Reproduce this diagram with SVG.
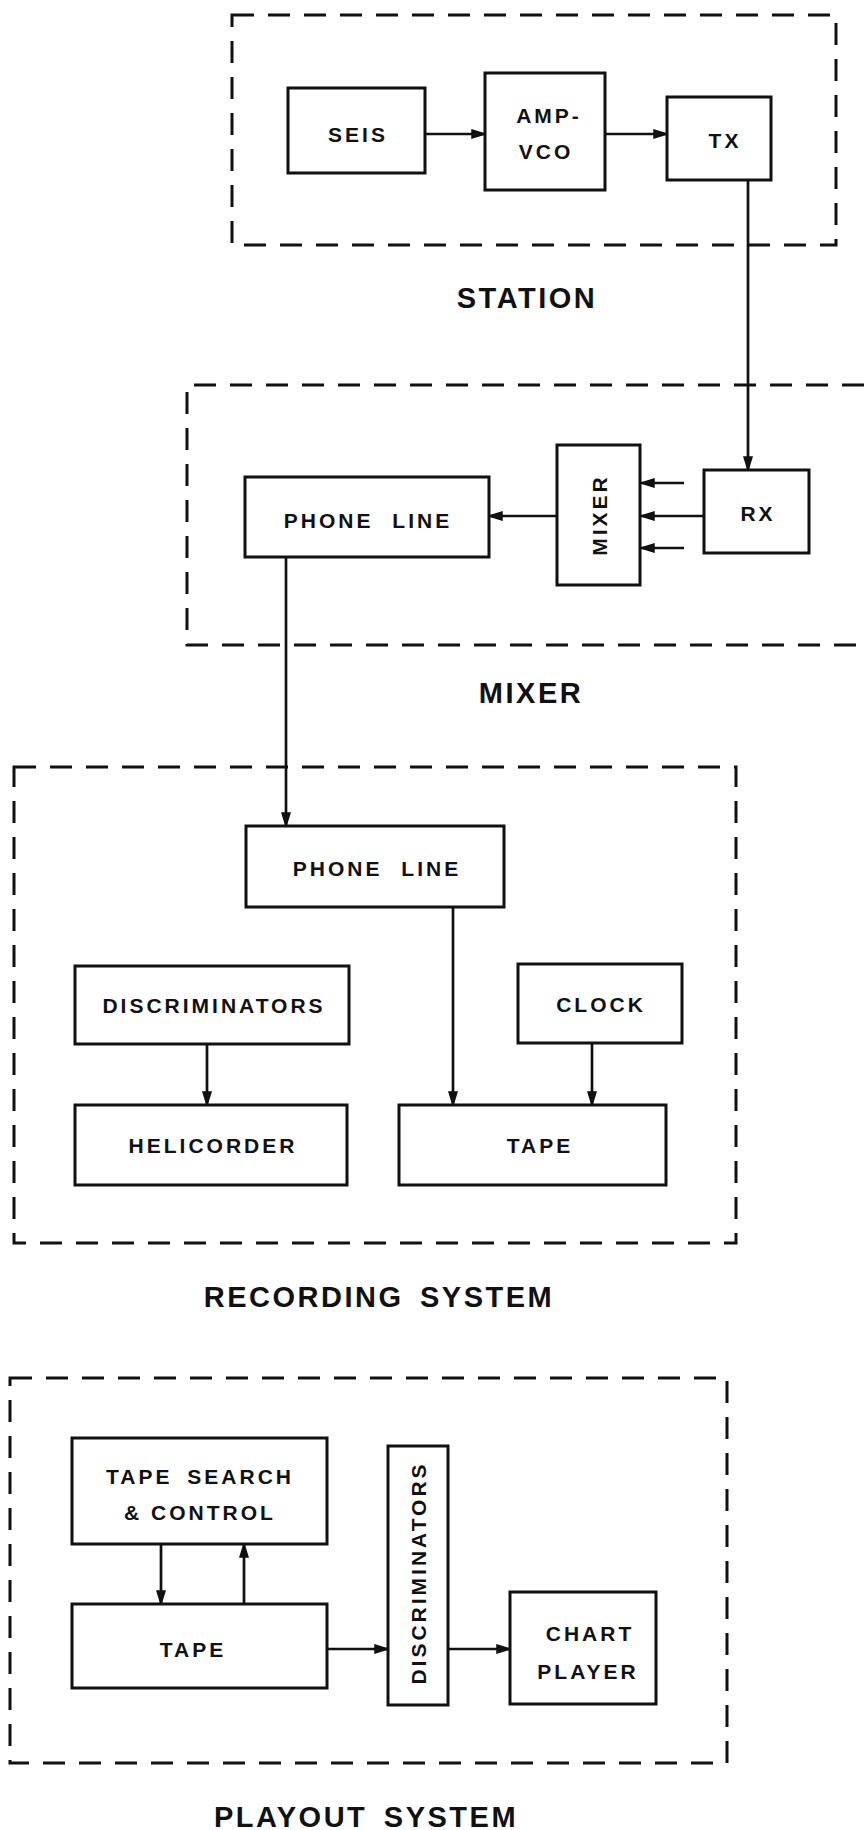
<svg xmlns="http://www.w3.org/2000/svg" width="864" height="1830" viewBox="0 0 864 1830">
<style>
.bg{fill:#fff}
.grp{fill:none;stroke:#111;stroke-width:3;stroke-dasharray:22 14}
.box{fill:#fff;stroke:#111;stroke-width:3}
.lbl{font-family:"Liberation Sans",Arial,sans-serif;font-weight:bold;font-size:21px;letter-spacing:3px;fill:#111;text-anchor:middle}
.ttl{font-family:"Liberation Sans",Arial,sans-serif;font-weight:bold;font-size:29px;letter-spacing:2.5px;fill:#111;text-anchor:middle}
.con{fill:none;stroke:#111;stroke-width:2.7;marker-end:url(#ah)}
</style>
<defs>
<marker id="ah" viewBox="0 0 14 10" refX="14" refY="5" markerWidth="14" markerHeight="10" markerUnits="userSpaceOnUse" orient="auto">
<path d="M1,1 L14,5 L1,9 Z" fill="#111" stroke="#111" stroke-width="1.5"/>
</marker>
</defs>
<rect class="bg" x="0" y="0" width="864" height="1830"/>

<g id="station-group">
<rect class="grp" x="232" y="15" width="604" height="230"/>
<text class="ttl" x="527" y="308">STATION</text>
</g>
<g id="mixer-group">
<path class="grp" d="M864,385 H187 V645 H864"/>
<text class="ttl" x="531" y="703">MIXER</text>
</g>
<g id="recording-group">
<rect class="grp" x="14" y="767" width="722" height="476"/>
<text class="ttl" x="379" y="1307" word-spacing="6">RECORDING SYSTEM</text>
</g>
<g id="playout-group">
<rect class="grp" x="10" y="1378" width="717" height="385"/>
<text class="ttl" x="366" y="1827" word-spacing="6">PLAYOUT SYSTEM</text>
</g>

<g id="connectors">
<line class="con" x1="425" y1="134" x2="485" y2="134"/>
<line class="con" x1="605" y1="134" x2="667" y2="134"/>
<line class="con" x1="748" y1="180" x2="748" y2="470"/>
<line class="con" x1="684" y1="483" x2="641" y2="483"/>
<line class="con" x1="704" y1="516" x2="641" y2="516"/>
<line class="con" x1="684" y1="548" x2="641" y2="548"/>
<line class="con" x1="557" y1="516" x2="489" y2="516"/>
<line class="con" x1="286" y1="557" x2="286" y2="826"/>
<line class="con" x1="453" y1="907" x2="453" y2="1105"/>
<line class="con" x1="207" y1="1044" x2="207" y2="1105"/>
<line class="con" x1="592" y1="1043" x2="592" y2="1105"/>
<line class="con" x1="161" y1="1544" x2="161" y2="1604"/>
<line class="con" x1="244" y1="1604" x2="244" y2="1544"/>
<line class="con" x1="327" y1="1649" x2="388" y2="1649"/>
<line class="con" x1="448" y1="1649" x2="510" y2="1649"/>
</g>

<g id="seis">
<rect class="box" x="288" y="88" width="137" height="85"/>
<text class="lbl" x="358" y="142">SEIS</text>
</g>
<g id="amp-vco">
<rect class="box" x="485" y="73" width="120" height="117"/>
<text class="lbl" x="549" y="123">AMP-</text>
<text class="lbl" x="546" y="159">VCO</text>
</g>
<g id="tx">
<rect class="box" x="667" y="97" width="104" height="83"/>
<text class="lbl" x="725" y="148">TX</text>
</g>

<g id="phone-line-mixer">
<rect class="box" x="245" y="477" width="244" height="80"/>
<text class="lbl" x="368" y="528" word-spacing="10">PHONE LINE</text>
</g>
<g id="mixer">
<rect class="box" x="557" y="445" width="83" height="140"/>
<text class="lbl" x="0" y="0" transform="translate(607,515) rotate(-90)">MIXER</text>
</g>
<g id="rx">
<rect class="box" x="704" y="470" width="105" height="83"/>
<text class="lbl" x="758" y="521">RX</text>
</g>

<g id="phone-line-rec">
<rect class="box" x="246" y="826" width="258" height="81"/>
<text class="lbl" x="377" y="876" word-spacing="10">PHONE LINE</text>
</g>
<g id="discriminators-rec">
<rect class="box" x="75" y="966" width="274" height="78"/>
<text class="lbl" x="214" y="1013">DISCRIMINATORS</text>
</g>
<g id="clock">
<rect class="box" x="518" y="964" width="164" height="79"/>
<text class="lbl" x="601" y="1012">CLOCK</text>
</g>
<g id="helicorder">
<rect class="box" x="75" y="1105" width="272" height="80"/>
<text class="lbl" x="213" y="1153">HELICORDER</text>
</g>
<g id="tape-rec">
<rect class="box" x="399" y="1105" width="267" height="80"/>
<text class="lbl" x="540" y="1153">TAPE</text>
</g>

<g id="tape-search">
<rect class="box" x="72" y="1438" width="255" height="106"/>
<text class="lbl" x="200" y="1484" word-spacing="6">TAPE SEARCH</text>
<text class="lbl" x="200" y="1520">&amp; CONTROL</text>
</g>
<g id="tape-play">
<rect class="box" x="72" y="1604" width="255" height="84"/>
<text class="lbl" x="193" y="1657">TAPE</text>
</g>
<g id="discriminators-play">
<rect class="box" x="388" y="1446" width="60" height="259"/>
<text class="lbl" x="0" y="0" transform="translate(426,1573) rotate(-90)">DISCRIMINATORS</text>
</g>
<g id="chart-player">
<rect class="box" x="510" y="1592" width="146" height="112"/>
<text class="lbl" x="590" y="1641">CHART</text>
<text class="lbl" x="588" y="1679">PLAYER</text>
</g>
</svg>
